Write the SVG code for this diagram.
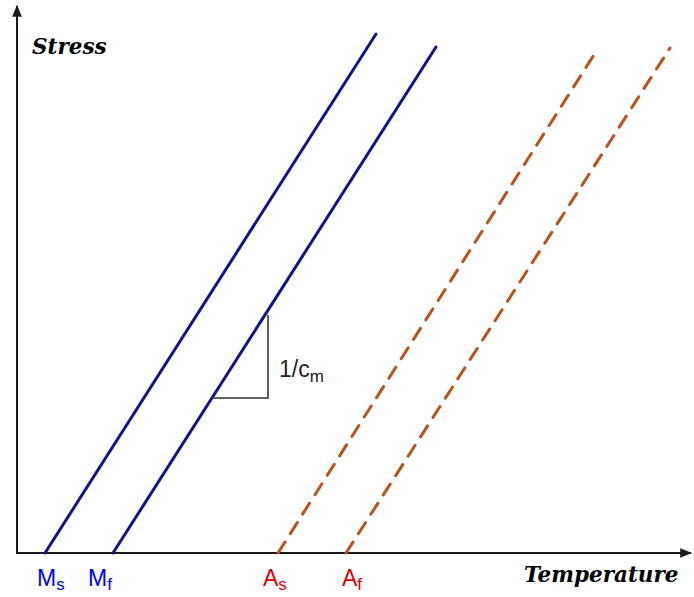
<svg xmlns="http://www.w3.org/2000/svg" width="694" height="597" viewBox="0 0 694 597">
<style>
.axis{stroke:#1a1a1a;stroke-width:2;fill:none}
.m{stroke:#12128c;stroke-width:3;fill:none;stroke-linecap:round}
.a{stroke:#b9521c;stroke-width:3;fill:none;stroke-dasharray:13 10;stroke-linecap:round}
.ttl{font-family:"DejaVu Serif","Liberation Serif",serif;font-weight:bold;font-style:italic;font-size:21.5px;fill:#000}
.lb{font-family:"Liberation Sans",Arial,sans-serif;font-size:23px}
</style>
<defs>
<marker id="ar2" viewBox="0 0 10 10" refX="9" refY="5" markerWidth="12" markerHeight="12" orient="auto" markerUnits="userSpaceOnUse">
<path d="M0,1 L10,5 L0,9 z" fill="#1a1a1a"/>
</marker>
</defs>
<rect width="694" height="597" fill="#fff"/>
<g id="axes">
<line class="axis" x1="17" y1="553" x2="17" y2="6" marker-end="url(#ar2)"/>
<line class="axis" x1="16" y1="553" x2="691" y2="553" marker-end="url(#ar2)"/>
</g>
<g id="connectors">
<line id="ms-line" class="m" x1="45" y1="553" x2="376" y2="34"/>
<line id="mf-line" class="m" x1="113" y1="553" x2="436" y2="47"/>
<line id="as-line" class="a" x1="278" y1="553" x2="597" y2="50"/>
<line id="af-line" class="a" x1="346" y1="553" x2="670" y2="48"/>
</g>
<g id="slope">
<polyline points="212,398 268,398 268,315" fill="none" stroke="#333" stroke-width="1.6"/>
<text class="lb" x="279" y="377" fill="#222" font-size="22">1/c<tspan font-size="17" dy="5">m</tspan></text>
</g>
<g id="labels">
<text class="ttl" x="32" y="54">Stress</text>
<text class="ttl" x="524" y="582">Temperature</text>
<text class="lb" x="37" y="586" fill="#0000ff">M<tspan font-size="17" dy="4">s</tspan></text>
<text class="lb" x="88" y="586" fill="#0000ff">M<tspan font-size="17" dy="4">f</tspan></text>
<text class="lb" x="263" y="586" fill="#e00000">A<tspan font-size="17" dy="4">s</tspan></text>
<text class="lb" x="342" y="586" fill="#e00000">A<tspan font-size="17" dy="4">f</tspan></text>
</g>
</svg>
